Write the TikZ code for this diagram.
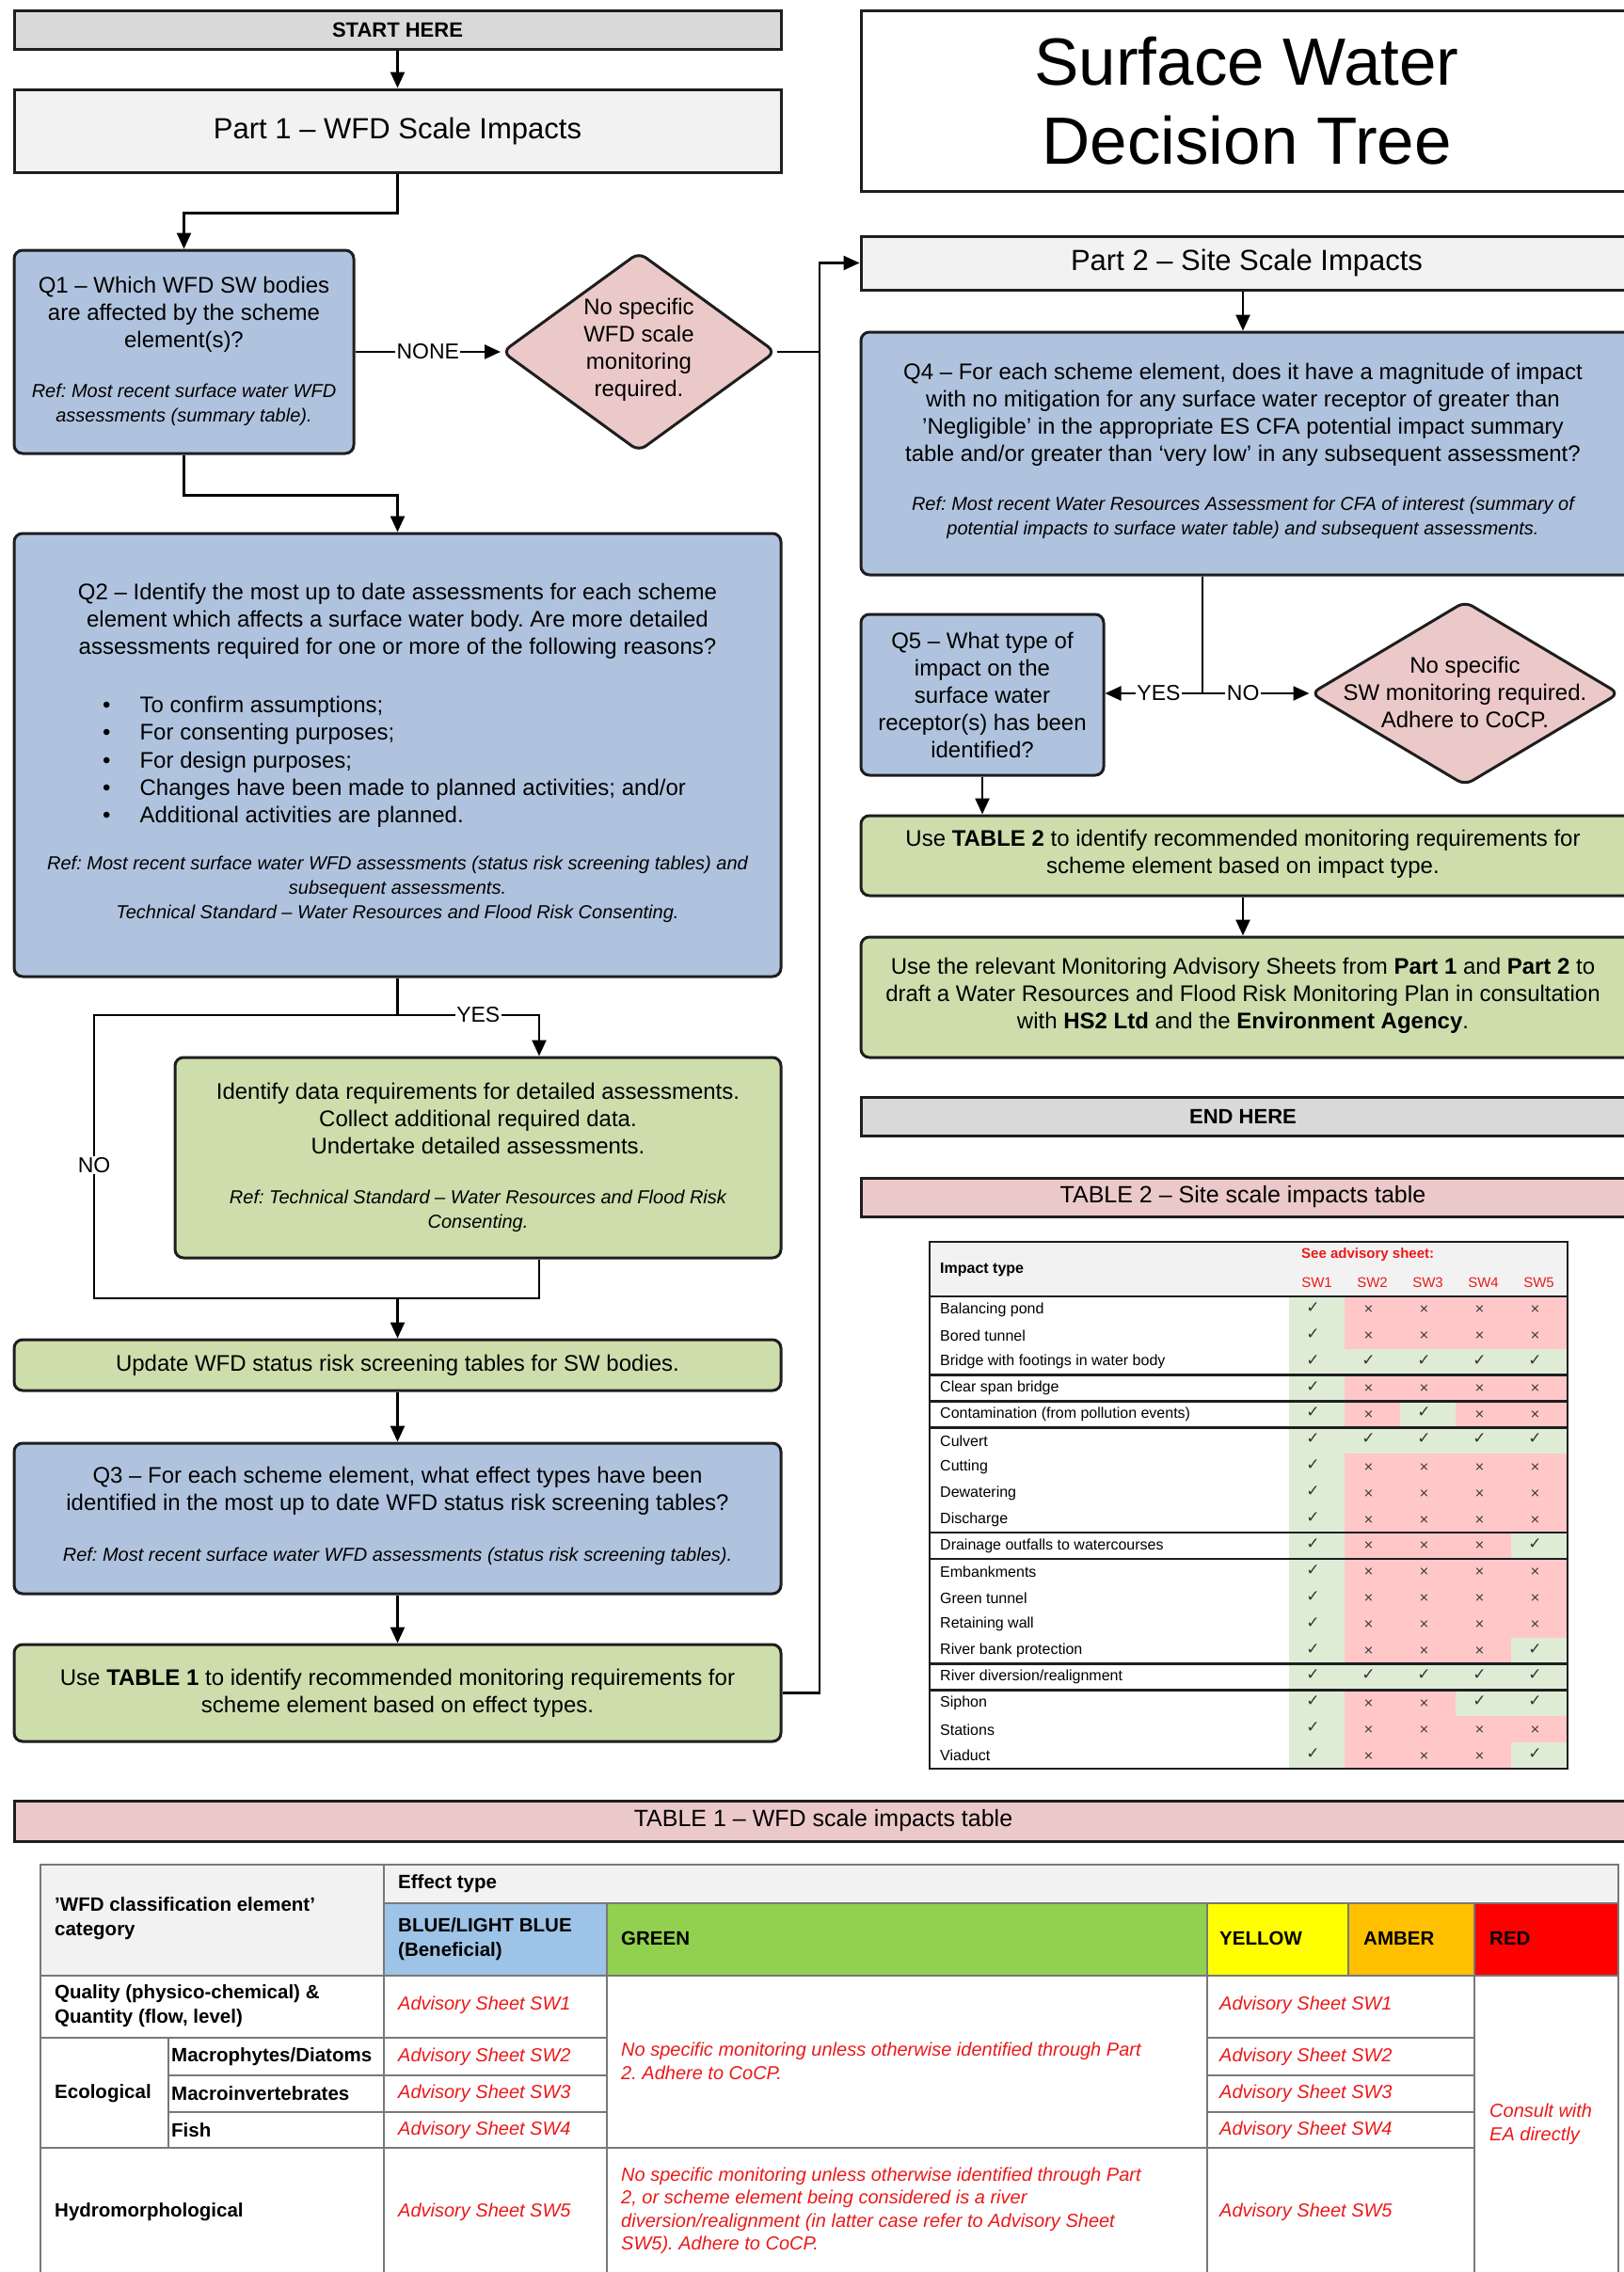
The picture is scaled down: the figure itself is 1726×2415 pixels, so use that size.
\documentclass[tikz,border=0pt]{standalone}
\usepackage{fontspec}
\setmainfont{Liberation Sans}
\newfontfamily\symfont{DejaVu Sans}
\usetikzlibrary{arrows.meta,shapes.geometric}
\frenchspacing
\definecolor{qblue}{RGB}{176,195,222}
\definecolor{qgreen}{RGB}{206,221,172}
\definecolor{qpink}{RGB}{236,201,201}
\definecolor{hgray}{RGB}{217,217,217}
\definecolor{lgray}{RGB}{242,242,242}
\definecolor{bordercol}{RGB}{30,30,30}
\definecolor{okgreen}{RGB}{222,236,214}
\definecolor{nopink}{RGB}{255,199,199}
\definecolor{t1blue}{RGB}{157,195,230}
\definecolor{t1green}{RGB}{146,208,80}
\definecolor{t1yellow}{RGB}{255,255,0}
\definecolor{t1amber}{RGB}{255,192,0}
\definecolor{t1red}{RGB}{255,0,0}
\definecolor{advred}{RGB}{235,25,25}
\definecolor{gridcol}{RGB}{120,120,120}
\tikzset{
  bx/.style={draw=bordercol,line width=3pt,inner sep=0pt},
  hdrbox/.style={bx,fill=hgray},
  partbox/.style={bx,fill=lgray},
  qbox/.style={bx,fill=qblue,rounded corners=9pt},
  gbox/.style={bx,fill=qgreen,rounded corners=9pt},
  pbox/.style={bx,fill=qpink},
  dmd/.style={diamond,draw=bordercol,line width=3pt,fill=qpink,inner sep=0pt,rounded corners=9pt},
  body/.style={align=center,font=\fontsize{24}{29}\selectfont,inner sep=0pt},
  reftxt/.style={align=center,font=\fontsize{20}{26}\selectfont\itshape,inner sep=0pt},
  arr/.style={line width=2.5pt,-{Triangle[length=17pt,width=15pt]}},
  ln/.style={line width=2.5pt},
  lbl/.style={fill=white,inner sep=1.5pt,font=\fontsize{23}{27}\selectfont},
  t2lab/.style={anchor=west,inner sep=0pt,font=\fontsize{16}{18}\selectfont},
  t2sym/.style={inner sep=0pt,font=\fontsize{17}{19}\symfont,text=black!80},
  t1hd/.style={anchor=west,align=left,inner sep=0pt,font=\fontsize{20.5}{25.5}\selectfont\bfseries},
  adv/.style={anchor=west,align=left,inner sep=0pt,text=advred,font=\fontsize{20}{24.5}\selectfont\itshape},
  grid1/.style={draw=gridcol,line width=2pt},
  t2line/.style={draw=bordercol,line width=2.5pt},
}
\begin{document}
\begin{tikzpicture}[x=1pt,y=-1pt]
\useasboundingbox (0,0) rectangle (1726,2415);
\clip (0,0) rectangle (1726,2415);
\fill[white] (0,0) rectangle (1726,2415);

% ---------- left column ----------
\node[hdrbox,minimum width=815pt,minimum height=41pt] (start) at (422.5,31.5) {\fontsize{22}{26}\selectfont\bfseries START HERE};
\node[partbox,minimum width=815pt,minimum height=88pt] (part1) at (422.5,139) {\fontsize{31}{36}\selectfont Part 1 – WFD Scale Impacts};

\node[qbox,minimum width=361pt,minimum height=216pt] (q1) at (195.5,374) {};
\node[body] (q1a) at (195.5,334) {Q1 – Which WFD SW bodies\\are affected by the scheme\\element(s)?};
\node[reftxt] (q1b) at (195.5,430) {Ref: Most recent surface water WFD\\assessments (summary table).};

\node[dmd,minimum width=291pt,minimum height=212pt] (d1) at (679,374) {};
\node[body] (d1t) at (679,372) {No specific\\WFD scale\\monitoring\\required.};

\node[qbox,minimum width=815pt,minimum height=471pt] (q2) at (422.5,802.5) {};
\node[body] (q2a) at (422.5,660) {Q2 – Identify the most up to date assessments for each scheme\\element which affects a surface water body. Are more detailed\\assessments required for one or more of the following reasons?};
\node[anchor=north west,inner sep=0pt,font=\fontsize{24}{29.25}\selectfont] (q2b) at (109,737)
 {\begin{tabular}{@{}l@{\hspace{31pt}}l@{}}
 \textbullet & To confirm assumptions;\\
 \textbullet & For consenting purposes;\\
 \textbullet & For design purposes;\\
 \textbullet & Changes have been made to planned activities; and/or\\
 \textbullet & Additional activities are planned.
 \end{tabular}};
\node[reftxt] (q2c) at (422.5,945) {Ref: Most recent surface water WFD assessments (status risk screening tables) and\\subsequent assessments.\\Technical Standard – Water Resources and Flood Risk Consenting.};

\node[gbox,minimum width=644pt,minimum height=213pt] (g1) at (508,1230.5) {};
\node[body] (g1a) at (508,1189) {Identify data requirements for detailed assessments.\\Collect additional required data.\\Undertake detailed assessments.};
\node[reftxt] (g1b) at (508,1287) {Ref: Technical Standard – Water Resources and Flood Risk\\Consenting.};

\node[gbox,minimum width=815pt,minimum height=54pt,body] (upd) at (422.5,1451) {Update WFD status risk screening tables for SW bodies.};

\node[qbox,minimum width=815pt,minimum height=160pt] (q3) at (422.5,1614) {};
\node[body] (q3a) at (422.5,1585) {Q3 – For each scheme element, what effect types have been\\identified in the most up to date WFD status risk screening tables?};
\node[reftxt] (q3b) at (422.5,1654) {Ref: Most recent surface water WFD assessments (status risk screening tables).};

\node[gbox,minimum width=815pt,minimum height=103pt,body] (t1box) at (422.5,1799.5) {Use \textbf{TABLE 1} to identify recommended monitoring requirements for\\scheme element based on effect types.};

% ---------- right column ----------
\node[bx,fill=white,minimum width=820pt,minimum height=192pt,align=center,font=\fontsize{71}{84}\selectfont] (title) at (1325,107) {Surface Water\\Decision Tree};
\node[partbox,minimum width=820pt,minimum height=57pt] (part2) at (1325,279.5) {\fontsize{31}{36}\selectfont Part 2 – Site Scale Impacts};

\node[qbox,minimum width=820pt,minimum height=258pt] (q4) at (1325,482) {};
\node[body] (q4a) at (1321,441) {Q4 – For each scheme element, does it have a magnitude of impact\\with no mitigation for any surface water receptor of greater than\\’Negligible’ in the appropriate ES CFA potential impact summary\\table and/or greater than ‘very low’ in any subsequent assessment?};
\node[reftxt] (q4b) at (1321,550) {Ref: Most recent Water Resources Assessment for CFA of interest (summary of\\potential impacts to surface water table) and subsequent assessments.};

\node[qbox,minimum width=258pt,minimum height=171pt,body] (q5) at (1044,738.5) {Q5 – What type of\\impact on the\\surface water\\receptor(s) has been\\identified?};

\node[dmd,minimum width=328pt,minimum height=196pt] (d2) at (1557,737) {};
\node[body] (d2t) at (1557,736) {No specific\\SW monitoring required.\\Adhere to CoCP.};

\node[gbox,minimum width=820pt,minimum height=85pt] (g2) at (1325,909.5) {};
\node[body] (g2t) at (1321,908) {Use \textbf{TABLE 2} to identify recommended monitoring requirements for\\scheme element based on impact type.};

\node[gbox,minimum width=820pt,minimum height=128pt] (g3) at (1325,1060) {};
\node[body] (g3t) at (1321,1058) {Use the relevant Monitoring Advisory Sheets from \textbf{Part 1} and \textbf{Part 2} to\\draft a Water Resources and Flood Risk Monitoring Plan in consultation\\with \textbf{HS2 Ltd} and the \textbf{Environment Agency}.};

\node[hdrbox,minimum width=820pt,minimum height=41pt] (endh) at (1325,1186.5) {};
\node[inner sep=0pt,font=\fontsize{22}{26}\selectfont\bfseries] (endt) at (1321,1186.5) {END HERE};
\node[pbox,minimum width=820pt,minimum height=41pt] (t2title) at (1325,1272.5) {};
\node[inner sep=0pt,font=\fontsize{25}{30}\selectfont] (t2tt) at (1321,1272.5) {TABLE 2 – Site scale impacts table};

% ---------- connectors ----------
\coordinate (cx2) at (1321,0);
\coordinate (j1) at (871,374);
\coordinate (q2j) at (422.5,1079);
\coordinate (yesx) at (573,1079);
\coordinate (nol) at (100,1079);
\coordinate (nob) at (100,1380);
\coordinate (mrg) at (422.5,1380);
\coordinate (q4j) at (1278,737);

\draw[arr] (start) -- (part1);
\draw[arr] (part1.south) -- ++(0,42) -| (q1.north);
\draw[arr] (q1.east) -- node[lbl]{NONE} (d1.west);
\draw[ln] (d1.east) -- (j1);
\draw[arr] (t1box.east) -- (t1box.east -| j1) -- (j1 |- part2.west) -- (part2.west);
\draw[arr] (q1.south) -- ++(0,43) -| (q2.north);
\draw[ln] (q2.south) -- (q2j);
\draw[arr] (q2j) -- node[lbl,pos=0.57]{YES} (yesx) -- (yesx |- g1.north);
\draw[ln] (q2j) -- (nol) -- node[lbl,pos=0.53]{NO} (nob) -- (mrg);
\draw[ln] (g1.south -| yesx) -- (yesx |- mrg) -- (mrg);
\draw[arr] (mrg) -- (upd.north);
\draw[arr] (upd) -- (q3);
\draw[arr] (q3) -- (t1box);

\draw[arr] (part2.south -| cx2) -- (q4.north -| cx2);
\draw[ln] (q4.south -| q4j) -- (q4j);
\draw[arr] (q4j) -- node[lbl,pos=0.45]{YES} (q4j -| q5.east);
\draw[arr] (q4j) -- node[lbl,pos=0.38]{NO} (d2.west);
\draw[arr] (q5.south) -- (q5.south |- g2.north);
\draw[arr] (g2.south -| cx2) -- (g3.north -| cx2);

% ---------- TABLE 2 ----------
\fill[lgray] (988,1320) rectangle (1666,1378);
\node[anchor=west,inner sep=0pt,font=\fontsize{16}{18}\selectfont\bfseries] (t2h1) at (999,1350) {Impact type};
\node[anchor=west,inner sep=0pt,text=advred,font=\fontsize{15}{18}\selectfont\bfseries] (t2h2) at (1383,1334) {See advisory sheet:};
\foreach \k in {1,...,5}{
  \pgfmathsetmacro\xc{1370+(\k-0.5)*59}
  \node[inner sep=0pt,text=advred,font=\fontsize{15}{18}\selectfont] (t2sw\k) at (\xc,1363) {SW\k};
}
\foreach \n/\lab/\a/\b/\c/\d/\e in {
1/Balancing pond/1/0/0/0/0,
2/Bored tunnel/1/0/0/0/0,
3/Bridge with footings in water body/1/1/1/1/1,
4/Clear span bridge/1/0/0/0/0,
5/Contamination (from pollution events)/1/0/1/0/0,
6/Culvert/1/1/1/1/1,
7/Cutting/1/0/0/0/0,
8/Dewatering/1/0/0/0/0,
9/Discharge/1/0/0/0/0,
10/Drainage outfalls to watercourses/1/0/0/0/1,
11/Embankments/1/0/0/0/0,
12/Green tunnel/1/0/0/0/0,
13/Retaining wall/1/0/0/0/0,
14/River bank protection/1/0/0/0/1,
15/{River diversion/realignment}/1/1/1/1/1,
16/Siphon/1/0/0/1/1,
17/Stations/1/0/0/0/0,
18/Viaduct/1/0/0/0/1}{
  \pgfmathsetmacro\yc{1378+(\n-0.5)*27.9}
  \node[t2lab] (t2r\n) at (999,\yc) {\lab};
  \foreach \k/\v in {1/\a,2/\b,3/\c,4/\d,5/\e}{
    \pgfmathsetmacro\xc{1370+(\k-0.5)*59}
    \ifnum\v=1
      \fill[okgreen] (\xc-29.5,\yc-13.95) rectangle (\xc+29.5,\yc+13.95);
      \node[t2sym] (t2c\n-\k) at (\xc-4,\yc-2) {✓};
    \else
      \fill[nopink] (\xc-29.5,\yc-13.95) rectangle (\xc+29.5,\yc+13.95);
      \node[t2sym,font=\fontsize{13}{15}\symfont] (t2c\n-\k) at (\xc-4,\yc) {×};
    \fi
  }
}
\foreach \n in {0,3,4,5,9,10,14,15}{
  \pgfmathsetmacro\yl{1378+\n*27.9}
  \draw[t2line] (988,\yl) -- (1666,\yl);
}
\draw[t2line] (988,1320) rectangle (1666,1880);

% ---------- TABLE 1 ----------
\node[pbox,minimum width=1720pt,minimum height=43pt] (t1title) at (875,1935.5) {};
\node[inner sep=0pt,font=\fontsize{25}{30}\selectfont] (t1tt) at (875,1935.5) {TABLE 1 – WFD scale impacts table};

\fill[lgray] (43,1982) rectangle (1720,2023);
\fill[lgray] (43,2023) rectangle (408,2100);
\fill[t1blue] (408,2023) rectangle (645,2100);
\fill[t1green] (645,2023) rectangle (1283,2100);
\fill[t1yellow] (1283,2023) rectangle (1433,2100);
\fill[t1amber] (1433,2023) rectangle (1567,2100);
\fill[t1red] (1567,2023) rectangle (1720,2100);

\draw[grid1] (43,2420) -- (43,1982) -- (1720,1982) -- (1720,2420);
\draw[grid1] (408,1982) -- (408,2420);
\draw[grid1] (645,2023) -- (645,2420);
\draw[grid1] (1283,2023) -- (1283,2420);
\draw[grid1] (1433,2023) -- (1433,2100);
\draw[grid1] (1567,2023) -- (1567,2420);
\draw[grid1] (408,2023) -- (1720,2023);
\draw[grid1] (43,2100) -- (1720,2100);
\draw[grid1] (43,2166) -- (645,2166);
\draw[grid1] (1283,2166) -- (1567,2166);
\draw[grid1] (179,2206) -- (645,2206);
\draw[grid1] (1283,2206) -- (1567,2206);
\draw[grid1] (179,2245) -- (645,2245);
\draw[grid1] (1283,2245) -- (1567,2245);
\draw[grid1] (43,2283) -- (1567,2283);
\draw[grid1] (179,2166) -- (179,2283);

\node[t1hd] (t1e) at (423,2002) {Effect type};
\node[t1hd] (t1c) at (58,2039) {’WFD classification element’\\category};
\node[t1hd] (t1bl) at (423,2061) {BLUE/LIGHT BLUE\\(Beneficial)};
\node[t1hd] (t1gr) at (660,2060) {GREEN};
\node[t1hd] (t1ye) at (1296,2060) {YELLOW};
\node[t1hd] (t1am) at (1449,2060) {AMBER};
\node[t1hd] (t1rd) at (1583,2060) {RED};
\node[t1hd] (t1q) at (58,2132) {Quality (physico-chemical) \&\\Quantity (flow, level)};
\node[t1hd] (t1eco) at (58,2225) {Ecological};
\node[t1hd] (t1mac) at (182,2186) {Macrophytes/Diatoms};
\node[t1hd] (t1inv) at (182,2225) {Macroinvertebrates};
\node[t1hd] (t1fish) at (182,2264) {Fish};
\node[t1hd] (t1hyd) at (58,2351) {Hydromorphological};

\foreach \i/\yy in {1/2131,2/2186,3/2225,4/2264,5/2351}{
  \node[adv] (t1b\i) at (423,\yy) {Advisory Sheet SW\i};
  \node[adv] (t1y\i) at (1296,\yy) {Advisory Sheet SW\i};
}
\node[adv] (t1g1) at (660,2191) {No specific monitoring unless otherwise identified through Part\\2. Adhere to CoCP.};
\node[adv] (t1g2) at (660,2350) {No specific monitoring unless otherwise identified through Part\\2, or scheme element being considered is a river\\diversion/realignment (in latter case refer to Advisory Sheet\\SW5). Adhere to CoCP.};
\node[adv] (t1r) at (1583,2258) {Consult with\\EA directly};
\end{tikzpicture}
\end{document}
